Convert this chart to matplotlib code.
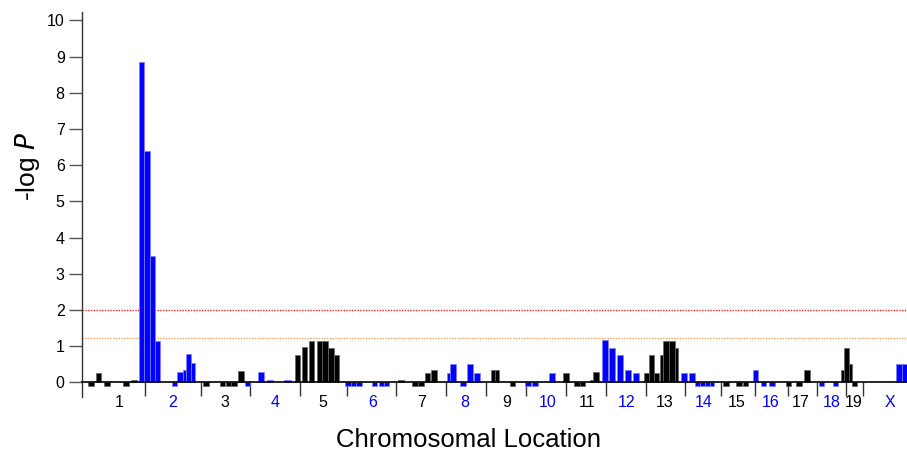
import matplotlib
matplotlib.use("Agg")
import matplotlib.pyplot as plt
from matplotlib.ticker import FixedLocator, NullFormatter

plt.rcParams['font.family'] = ['Liberation Sans', 'DejaVu Sans']

# ---------------- data ----------------
chrom_names = ['1', '2', '3', '4', '5', '6', '7', '8', '9', '10', '11', '12',
               '13', '14', '15', '16', '17', '18', '19', 'X']
chrom_label_pos = [37, 91, 143, 193, 241, 291, 340, 383, 425, 466, 505, 545,
                   583, 622, 655, 689, 719, 750, 772, 808]
chrom_bounds = [63, 119, 168, 218, 265, 314, 363.5, 404, 444, 484, 524, 564,
                602.5, 638.5, 673, 705.5, 735, 763.5, 781]

bar_chrom = (['1'] * 5 + ['2'] * 9 + ['3'] * 5 + ['4'] * 4 + ['5'] * 7 +
             ['6'] * 6 + ['7'] * 5 + ['8'] * 5 + ['9'] * 3 + ['10'] * 3 +
             ['11'] * 5 + ['12'] * 5 + ['13'] * 7 + ['14'] * 6 + ['15'] * 3 +
             ['16'] * 3 + ['17'] * 3 + ['18'] * 2 + ['19'] * 4 + ['X'] * 2)
bar_start = [6, 14, 22, 41, 49,
             57, 62.3, 67.7, 73.3, 90, 95, 101, 104, 109,
             121, 138, 144, 149, 156,
             163, 176, 185, 202,
             213, 220, 227, 235, 240, 246, 252,
             263, 269, 274, 290, 297, 302,
             316, 330, 336, 343, 349,
             365, 368, 378, 385, 392,
             409, 413, 428,
             443, 450, 467,
             481, 492, 498, 508, 511,
             520, 527, 535, 543, 551,
             562, 567, 572, 578, 581, 587, 593,
             599, 607, 613, 618, 623, 628,
             641, 654, 661,
             671, 679, 687,
             704, 714, 722,
             737, 751,
             759, 762, 767, 770,
             814, 819.5]
bar_end = [12, 19, 28, 47, 55,
           62.3, 67.7, 73.3, 78.3, 95, 101, 104, 109, 113,
           127, 143, 149, 155, 162,
           168, 182, 191, 209,
           218, 225, 232, 240, 246, 252, 257,
           269, 274, 280, 295, 302, 307,
           322, 336, 342, 348, 355,
           368, 374, 384, 391, 398,
           413, 417, 433,
           449, 456, 473,
           487, 498, 503, 511, 517,
           526, 533, 541, 549, 557,
           567, 572, 577, 581, 587, 593, 596,
           605, 613, 618, 623, 628, 632,
           647, 660, 666,
           676, 684, 693,
           709, 720, 728,
           742, 756,
           762, 767, 770, 775,
           819.5, 825]
bar_logp = [-0.1, 0.27, -0.1, -0.1, 0.06,
            8.85, 6.38, 3.5, 1.15, -0.1, 0.28, 0.35, 0.77, 0.52,
            -0.1, -0.1, -0.1, -0.1, 0.32,
            -0.1, 0.28, 0.06, 0.06,
            0.75, 0.97, 1.15, 1.15, 1.15, 0.96, 0.75,
            -0.1, -0.1, -0.1, -0.1, -0.1, -0.1,
            0.06, -0.1, -0.1, 0.27, 0.34,
            0.27, 0.5, -0.1, 0.5, 0.27,
            0.33, 0.33, -0.1,
            -0.1, -0.1, 0.27,
            0.27, -0.1, -0.1, 0.06, 0.28,
            1.16, 0.94, 0.75, 0.33, 0.27,
            0.27, 0.75, 0.27, 0.75, 1.13, 1.13, 0.94,
            0.27, 0.27, -0.1, -0.1, -0.1, -0.1,
            -0.1, -0.1, -0.1,
            0.33, -0.1, -0.1,
            -0.1, -0.1, 0.33,
            -0.1, -0.1,
            0.33, 0.96, 0.5, -0.1,
            0.5, 0.5]

significant_threshold = 2.0
suggestive_threshold = 1.23

# ---------------- style ----------------
BLUE = '#0000ff'
BLACK = '#000000'


def chrom_color(name):
    if name == 'X':
        return BLUE
    return BLACK if int(name) % 2 == 1 else BLUE


W, H = 907, 453
fig = plt.figure(figsize=(W / 100, H / 100), dpi=100)
ax = fig.add_axes([82 / W, (H - 397) / H, 825 / W, (397 - 12) / H])

for c, s, e, v in zip(bar_chrom, bar_start, bar_end, bar_logp):
    col = chrom_color(c)
    edge = '#7f7fff' if col == BLUE else '#666666'
    ax.bar(s, v, width=e - s, align='edge', color=col, edgecolor=edge,
           linewidth=0.5, zorder=2)

ax.axhline(significant_threshold, color='#ff2020', lw=1.0, ls=(0, (1, 1)), zorder=1)
ax.axhline(suggestive_threshold, color='#ffa050', lw=1.0, ls=(0, (1, 1)), zorder=1)

ax.set_xlim(0, 825)
ax.set_ylim(-0.406, 10.23)

for sp in ['top', 'right']:
    ax.spines[sp].set_visible(False)
ax.spines['bottom'].set_position(('data', 0))
ax.spines['bottom'].set_color('black')
ax.spines['bottom'].set_linewidth(1.2)
ax.spines['bottom'].set_zorder(3)
ax.spines['left'].set_color('#333333')
ax.spines['left'].set_linewidth(1.0)

ax.set_yticks(range(0, 11))
ax.tick_params(axis='y', direction='out', length=9.5, width=1.0,
               color='#555555', labelsize=11.5, pad=3)

ax.xaxis.set_major_locator(FixedLocator(chrom_bounds))
ax.xaxis.set_major_formatter(NullFormatter())
ax.xaxis.set_minor_locator(FixedLocator(chrom_label_pos))
ax.set_xticklabels(chrom_names, minor=True)
ax.tick_params(axis='x', which='major', direction='out', length=10, width=1.0,
               color='#333333')
ax.tick_params(axis='x', which='minor', length=0, labelsize=11.5, pad=9.5)
for lab, name in zip(ax.get_xticklabels(minor=True), chrom_names):
    lab.set_color(chrom_color(name))

fig.text(28 / W, 1 - 166 / H, r'-log $\it{P}$', rotation=90, ha='center',
         va='center', fontsize=19)
fig.text(468 / W, 1 - 440 / H, 'Chromosomal Location', ha='center',
         va='center', fontsize=18.5)

fig.savefig('out.png', dpi=100)
